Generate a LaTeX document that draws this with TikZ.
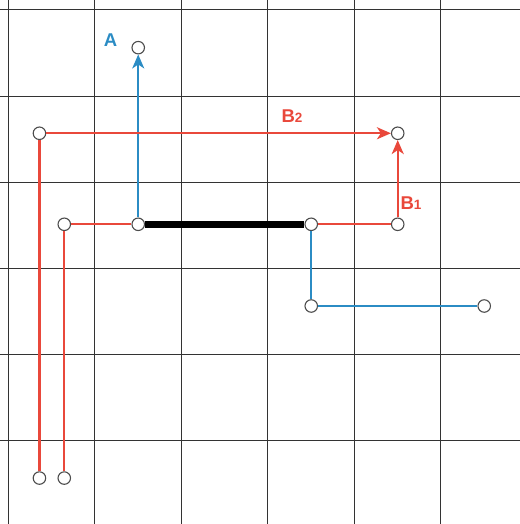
\documentclass[tikz,border=0pt]{standalone}
\usepackage{fontspec}
\setmainfont{Liberation Sans}
\usetikzlibrary{arrows.meta}
\definecolor{routeblue}{RGB}{43,140,196}
\definecolor{routered}{RGB}{233,72,59}
\tikzset{
	gridline/.style={draw=black!80, line width=1pt},
	port/.style={circle, draw=black!70, line width=1.1pt, fill=white, inner sep=0pt, minimum size=12.5pt},
	redroute/.style={draw=routered, line width=2.2pt},
	blueroute/.style={draw=routeblue, line width=2.2pt},
	sharedroute/.style={draw=black, line width=6.5pt},
	routetip/.style={-{Stealth[length=14pt,width=12pt,inset=4pt]}},
	tag/.style={font=\bfseries\fontsize{18.5}{20}\selectfont, inner sep=0pt}
}
\begin{document}
\begin{tikzpicture}[x=86.5pt,y=-86.2pt]
			\useasboundingbox (-0.098,-0.116) rectangle (5.913,5.963);
			\clip (-0.098,-0.116) rectangle (5.913,5.963);
			\foreach \i in {0,...,6} {
				\draw[gridline] (\i,-0.5) -- (\i,6.5);
				\draw[gridline] (-0.5,\i) -- (6.5,\i);
			}
			% ports
			\node[port] (atop) at (1.5,0.437) {};
			\node[port] (mleft) at (1.5,2.486) {};
			\node[port] (mright) at (3.5,2.486) {};
			\node[port] (abend) at (3.5,3.434) {};
			\node[port] (aend) at (5.5,3.434) {};
			\node[port] (btop) at (4.5,1.43) {};
			\node[port] (bturn) at (4.5,2.486) {};
			\node[port] (btwobend) at (0.358,1.43) {};
			\node[port] (btwostart) at (0.358,5.43) {};
			\node[port] (bonebend) at (0.645,2.486) {};
			\node[port] (bonestart) at (0.645,5.43) {};
			% routes
			\draw[blueroute] (aend) -- (abend);
			\draw[blueroute] (abend) -- (mright);
			\draw[blueroute, routetip] (mleft) -- (atop);
			\draw[sharedroute] (mleft) -- (mright);
			\draw[redroute] (bonestart) -- (bonebend);
			\draw[redroute] (bonebend) -- (mleft);
			\draw[redroute] (mright) -- (bturn);
			\draw[redroute, routetip] (bturn) -- (btop);
			\draw[redroute] (btwostart) -- (btwobend);
			\draw[redroute, routetip] (btwobend) -- (btop);
			% labels
			\node[tag, text=routeblue] (alabel) at (1.179,0.348) {A};
			\node[tag, text=routered] (btwolabel) at (3.277,1.235) {B{\fontsize{13.5}{15}\selectfont 2}};
			\node[tag, text=routered] (bonelabel) at (4.653,2.239) {B{\fontsize{13.5}{15}\selectfont 1}};
		\end{tikzpicture}
\end{document}
